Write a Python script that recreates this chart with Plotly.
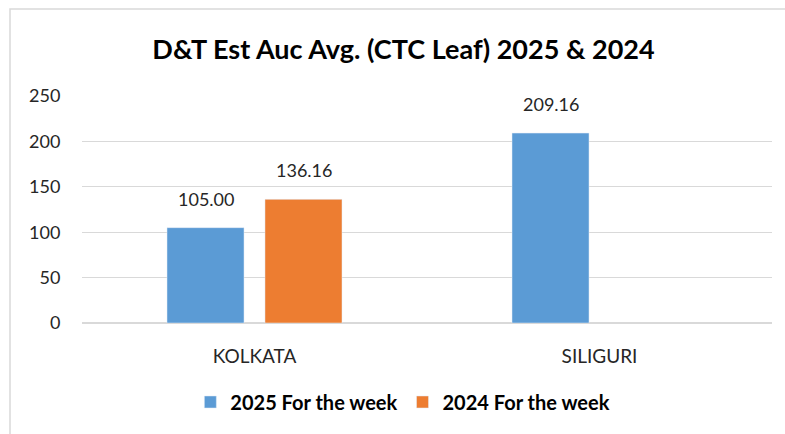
import plotly.graph_objects as go

categories = ["KOLKATA", "SILIGURI"]
series_2025 = [105.00, 209.16]
series_2024 = [136.16, None]
names = ["2025 For the week", "2024 For the week"]
y_ticks = [0, 50, 100, 150, 200, 250]

FONT = "Lato, Calibri, Carlito, sans-serif"
LABEL_COLOR = "#262626"

fig = go.Figure()
fig.add_trace(go.Bar(x=categories, y=series_2025, name="<b>" + names[0] + "</b>",
                     marker_color="#5b9bd5"))
fig.add_trace(go.Bar(x=categories, y=series_2024, name="<b>" + names[1] + "</b>",
                     marker_color="#ed7d31"))

annotations = []
for vals, shift in ((series_2025, -49), (series_2024, 49)):
    for c, v in zip(categories, vals):
        if v is None:
            continue
        annotations.append(dict(x=c, y=v, xref="x", yref="y", text=f"{v:.2f}",
                                showarrow=False, xshift=shift, yshift=29,
                                yanchor="middle", xanchor="center",
                                font=dict(size=18, color=LABEL_COLOR, family=FONT)))

fig.update_layout(
    width=785, height=434,
    margin=dict(l=82, r=13, t=96, b=111),
    paper_bgcolor="white", plot_bgcolor="white",
    font=dict(family=FONT, color=LABEL_COLOR),
    title=dict(text="<b>D&T Est Auc Avg. (CTC Leaf) 2025 & 2024</b>",
               x=403.5 / 785, xanchor="center", y=1 - 50 / 434, yanchor="middle",
               font=dict(size=27, color="black", family=FONT)),
    barmode="group", bargap=0.432, bargroupgap=0.214,
    showlegend=True,
    legend=dict(orientation="h", x=0.465, xanchor="center", y=-0.348, yanchor="middle",
                font=dict(size=20, color="black", family=FONT), itemwidth=30,
                traceorder="normal"),
    xaxis=dict(showgrid=False, showline=True, linecolor="#d9d9d9", linewidth=1,
               tickfont=dict(size=19, color=LABEL_COLOR, family=FONT),
               ticks="outside", ticklen=16, tickcolor="rgba(0,0,0,0)"),
    yaxis=dict(range=[0, 250], tickvals=y_ticks, showgrid=True, gridcolor="#d9d9d9",
               gridwidth=1, zeroline=True, zerolinecolor="#d9d9d9", showline=False,
               tickfont=dict(size=18, color=LABEL_COLOR, family=FONT),
               ticks="outside", ticklen=17, tickcolor="rgba(0,0,0,0)"),
    annotations=annotations,
    shapes=[dict(type="rect", xref="paper", yref="paper",
                 x0=(10 - 82) / 690, x1=(800 - 82) / 690,
                 y0=(323 - 440) / 227, y1=(323 - 9) / 227,
                 line=dict(color="#d9d9d9", width=1.5), fillcolor="rgba(0,0,0,0)",
                 layer="below")],
)

fig.write_html("out.html", config={"displayModeBar": False},
               post_script="document.body.style.margin='0';")
